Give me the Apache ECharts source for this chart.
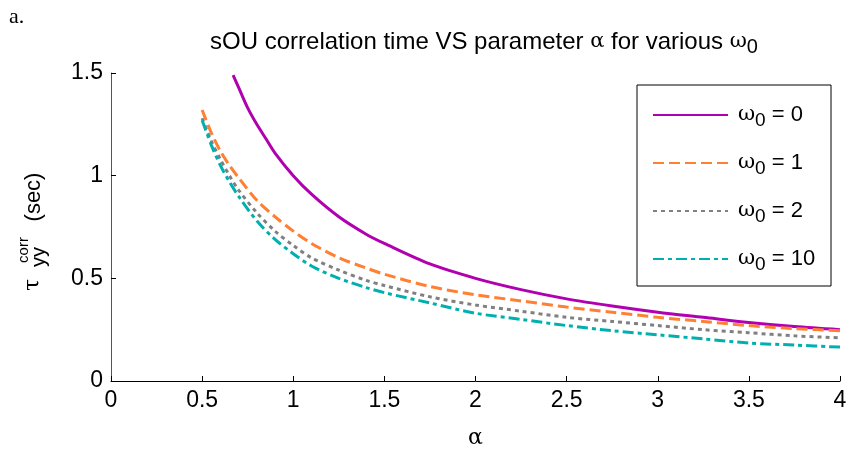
<!DOCTYPE html>
<html>
<head>
<meta charset="utf-8">
<script src="https://cdn.jsdelivr.net/npm/echarts@6/dist/echarts.min.js"></script>
<style>
  html, body { margin: 0; padding: 0; background: #fff; }
  #main { width: 847px; height: 450px; }
</style>
</head>
<body>
<div id="main"></div>
<script>
// alpha values where the curves were read
var alphaW0 = [0.67, 0.7, 0.75, 0.8, 0.85, 0.9, 1.0, 1.1, 1.25, 1.4, 1.5, 1.75, 2.0, 2.25, 2.5, 2.75, 3.0, 3.25, 3.5, 3.75, 4.0];
var alphaOther = [0.5, 0.55, 0.6, 0.65, 0.7, 0.8, 0.9, 1.0, 1.1, 1.25, 1.4, 1.5, 1.75, 2.0, 2.25, 2.5, 2.75, 3.0, 3.25, 3.5, 3.75, 4.0];

// correlation time (sec)
var tauW0 = [1.49, 1.43, 1.33, 1.25, 1.18, 1.11, 1.0, 0.91, 0.80, 0.715, 0.67, 0.57, 0.50, 0.445, 0.40, 0.365, 0.335, 0.31, 0.285, 0.265, 0.25];
var tauW1 = [1.32, 1.21, 1.12, 1.05, 0.99, 0.88, 0.80, 0.73, 0.67, 0.60, 0.55, 0.52, 0.46, 0.42, 0.39, 0.36, 0.335, 0.31, 0.29, 0.27, 0.255, 0.245];
var tauW2 = [1.28, 1.17, 1.08, 1.0, 0.93, 0.82, 0.73, 0.66, 0.60, 0.54, 0.49, 0.465, 0.41, 0.37, 0.34, 0.31, 0.29, 0.27, 0.25, 0.235, 0.22, 0.21];
var tauW10 = [1.27, 1.15, 1.05, 0.97, 0.90, 0.78, 0.69, 0.62, 0.56, 0.50, 0.455, 0.43, 0.38, 0.33, 0.30, 0.27, 0.245, 0.225, 0.205, 0.185, 0.175, 0.165];

var seriesNames = ['0', '1', '2', '10'];

function pairs(xs, ys) {
    var out = [];
    for (var i = 0; i < xs.length; i++) {
        out.push([xs[i], ys[i]]);
    }
    return out;
}

var FONT = 'Liberation Sans, Arial, sans-serif';
var SYM = 'DejaVu Serif, serif';

var myChart = echarts.init(document.getElementById('main'));

var option = {
    animation: false,
    backgroundColor: '#fff',
    title: {
        text: '{a|sOU correlation time VS parameter }{g|α}{a| for various }{g|ω}{s|0}',
        left: 479,
        textAlign: 'center',
        top: 22,
        textStyle: {
            fontWeight: 'normal',
            rich: {
                a: { fontFamily: FONT, fontSize: 24, fontWeight: 'normal', color: '#000', lineHeight: 30, verticalAlign: 'middle' },
                g: { fontFamily: SYM, fontSize: 21, fontWeight: 'normal', color: '#000', lineHeight: 30, verticalAlign: 'middle' },
                s: { fontFamily: FONT, fontSize: 20, fontWeight: 'normal', color: '#000', lineHeight: 20, verticalAlign: 'bottom' }
            }
        }
    },
    grid: {
        left: 111,
        right: 7,
        top: 73,
        bottom: 69,
        containLabel: false,
        outerBoundsMode: 'none'
    },
    legend: {
        orient: 'vertical',
        left: 652,
        top: 104,
        padding: 0,
        itemWidth: 75,
        itemHeight: 14,
        itemGap: 22,
        data: seriesNames,
        itemStyle: { opacity: 0 },
        formatter: function(name) {
            return '{g|ω}{s|0}{a| = ' + name + '}';
        },
        textStyle: {
            rich: {
                a: { fontFamily: FONT, fontSize: 22, color: '#000', lineHeight: 30, verticalAlign: 'middle' },
                g: { fontFamily: SYM, fontSize: 21, color: '#000', lineHeight: 30, verticalAlign: 'middle', padding: [0, 0, 0, 5] },
                s: { fontFamily: FONT, fontSize: 19, color: '#000', lineHeight: 19, verticalAlign: 'bottom' }
            }
        }
    },
    xAxis: {
        type: 'value',
        min: 0,
        max: 4,
        interval: 0.5,
        name: 'α',
        nameLocation: 'middle',
        nameGap: 46,
        nameTextStyle: { fontFamily: SYM, fontSize: 22, color: '#000' },
        axisLine: { show: true, lineStyle: { color: '#000', width: 1 } },
        axisTick: { show: true, inside: true, length: 5, lineStyle: { color: '#000' } },
        axisLabel: { fontFamily: FONT, fontSize: 23, color: '#000', margin: 8 },
        splitLine: { show: false }
    },
    yAxis: {
        type: 'value',
        min: 0,
        max: 1.5,
        interval: 0.5,
        axisLine: { show: true, lineStyle: { color: '#555', width: 1 } },
        axisTick: { show: true, inside: true, length: 5, lineStyle: { color: '#000' } },
        axisLabel: { fontFamily: FONT, fontSize: 23, color: '#000', margin: 8 },
        splitLine: { show: false }
    },
    graphic: [
        {
            type: 'text',
            left: 9,
            top: 6,
            style: { text: 'a.', font: '22px "Liberation Serif", serif', fill: '#000' }
        },
        {
            type: 'rect',
            shape: { x: 637, y: 85, width: 194, height: 201 },
            style: { fill: 'none', stroke: '#000', lineWidth: 1 },
            z: 10
        },
        {
            type: 'text', x: 33, y: 285, rotation: Math.PI / 2,
            style: { text: 'τ', font: '22px "DejaVu Serif", serif', fill: '#000', align: 'center', verticalAlign: 'middle' }
        },
        {
            type: 'text', x: 24, y: 250, rotation: Math.PI / 2,
            style: { text: 'corr', font: '15px "Liberation Sans", Arial, sans-serif', fill: '#000', align: 'center', verticalAlign: 'middle' }
        },
        {
            type: 'text', x: 39, y: 257, rotation: Math.PI / 2,
            style: { text: 'yy', font: '20px "Liberation Sans", Arial, sans-serif', fill: '#000', align: 'center', verticalAlign: 'middle' }
        },
        {
            type: 'text', x: 34, y: 197, rotation: Math.PI / 2,
            style: { text: '(sec)', font: '22px "Liberation Sans", Arial, sans-serif', fill: '#000', align: 'center', verticalAlign: 'middle' }
        }
    ],
    series: [
        {
            name: '0',
            type: 'line',
            symbol: 'none',
            smooth: 0.3,
            data: pairs(alphaW0, tauW0),
            color: '#b000b0',
            lineStyle: { color: '#b000b0', width: 3, type: 'solid' }
        },
        {
            name: '1',
            type: 'line',
            symbol: 'none',
            smooth: 0.3,
            data: pairs(alphaOther, tauW1),
            color: '#ff8033',
            lineStyle: { color: '#ff8033', width: 3, type: [11, 5] }
        },
        {
            name: '2',
            type: 'line',
            symbol: 'none',
            smooth: 0.3,
            data: pairs(alphaOther, tauW2),
            color: '#808080',
            lineStyle: { color: '#808080', width: 3, type: [4, 4] }
        },
        {
            name: '10',
            type: 'line',
            symbol: 'none',
            smooth: 0.3,
            data: pairs(alphaOther, tauW10),
            color: '#00b0b0',
            lineStyle: { color: '#00b0b0', width: 3, type: [11, 4, 4, 4] }
        }
    ]
};

myChart.setOption(option);
</script>
</body>
</html>
